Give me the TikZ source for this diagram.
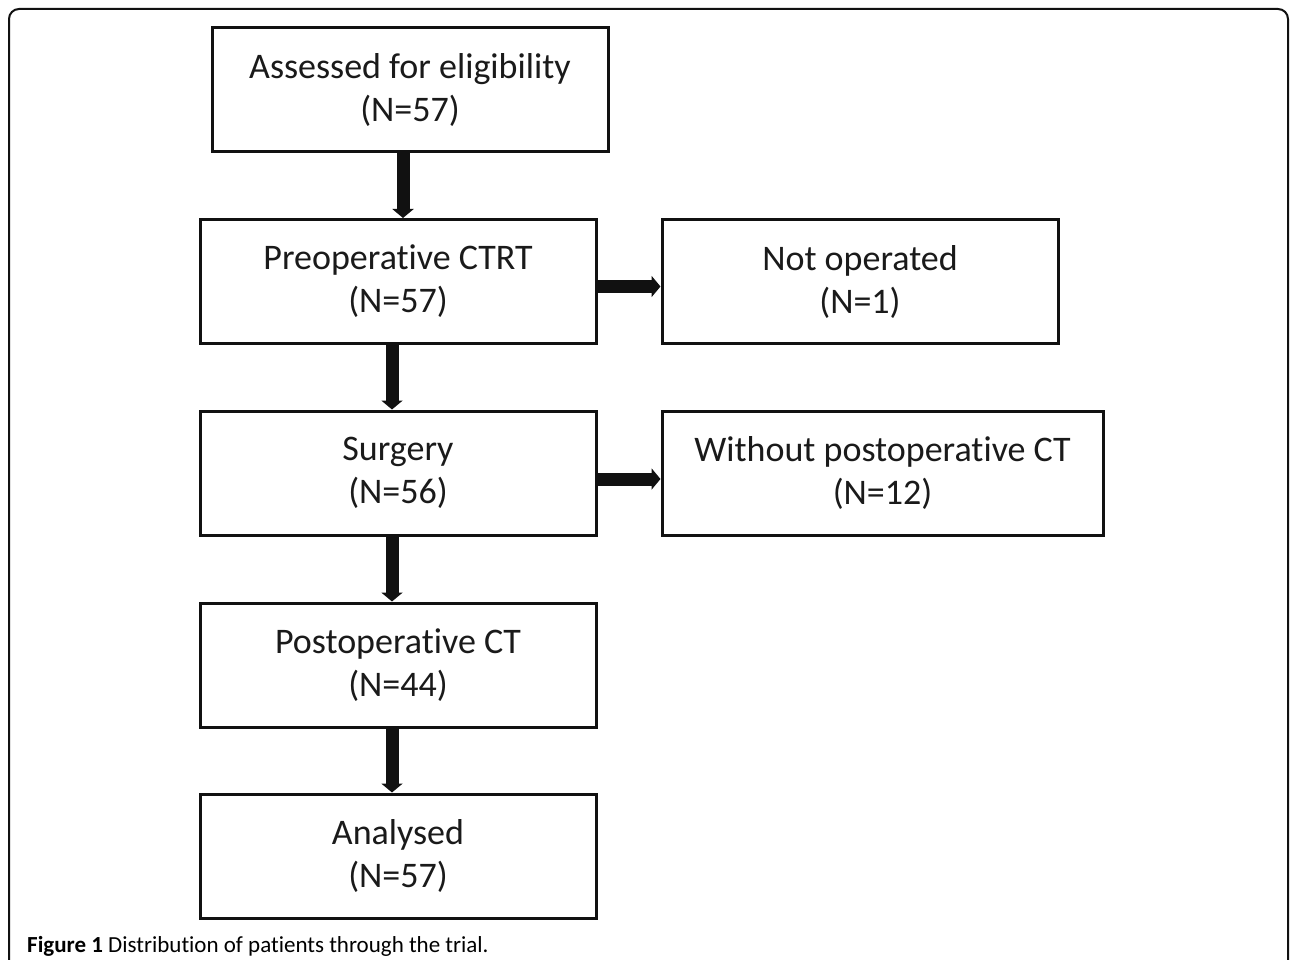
\documentclass[tikz,border=0pt]{standalone}
\usepackage{fontspec}
\setmainfont[Ligatures={NoCommon,NoDiscretionary,NoRare}]{Carlito}
\usetikzlibrary{arrows.meta}
\definecolor{ink}{HTML}{1A1A1A}
\definecolor{edge}{HTML}{111111}
\tikzset{
  flowbox/.style={draw=edge, line width=3pt, minimum height=124pt, inner sep=0pt,
    align=center, text=ink, font=\fontsize{36}{43}\selectfont},
  flowarrow/.style={draw=edge, line width=13pt, -{Triangle[width=21pt,length=9pt]}},
}
\begin{document}
\begin{tikzpicture}[x=1pt,y=-1pt]
\useasboundingbox (0,0) rectangle (1290,960);
\fill[white] (0,0) rectangle (1290,960);
\draw[line width=2pt, rounded corners=10pt, edge] (9,975) -- (9,9) -- (1288,9) -- (1288,975);

\node[flowbox, minimum width=396pt] (b1) at (410,89.5) {Assessed for eligibility\\(N=57)};
\node[flowbox, minimum width=396pt] (b2) at (398,281.5) {Preoperative CTRT\\(N=57)};
\node[flowbox, minimum width=396pt] (b3) at (860,281.5) {Not operated\\(N=1)};
\node[flowbox, minimum width=396pt] (b4) at (398,473) {Surgery\\(N=56)};
\node[flowbox, minimum width=441pt] (b5) at (882.5,473) {Without postoperative CT\\(N=12)};
\node[flowbox, minimum width=396pt] (b6) at (398,665) {Postoperative CT\\(N=44)};
\node[flowbox, minimum width=396pt] (b7) at (398,856) {Analysed\\(N=57)};

\draw[flowarrow] ([xshift=-7pt]b1.south) -- ([xshift=-7pt]b1.south |- b2.north);
\draw[flowarrow] ([xshift=-6pt]b2.south) -- ([xshift=-6pt]b2.south |- b4.north);
\draw[flowarrow] ([xshift=-6pt]b4.south) -- ([xshift=-6pt]b4.south |- b6.north);
\draw[flowarrow] ([xshift=-6pt]b6.south) -- ([xshift=-6pt]b6.south |- b7.north);
\draw[flowarrow] ([yshift=-5pt]b2.east) -- ([yshift=-5pt]b2.east -| b3.west);
\draw[flowarrow] ([yshift=-6pt]b4.east) -- ([yshift=-6pt]b4.east -| b5.west);

\node[anchor=base west, inner sep=0pt, font=\fontsize{23}{27}\selectfont] (cap) at (27,952)
  {\textbf{Figure 1} Distribution of patients through the trial.};
\end{tikzpicture}
\end{document}
